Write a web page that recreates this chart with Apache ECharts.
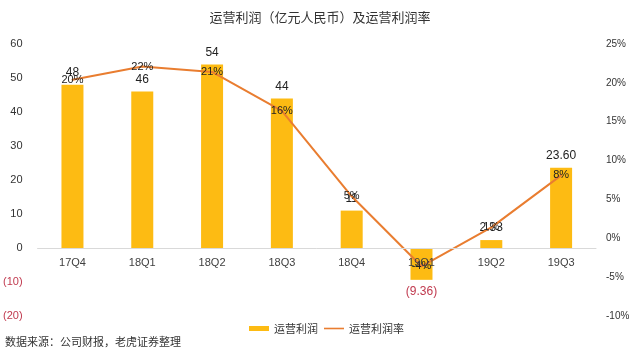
<!DOCTYPE html>
<html>
<head>
<meta charset="utf-8">
<script src="https://cdn.jsdelivr.net/npm/echarts@6/dist/echarts.min.js"></script>
<style>html,body{margin:0;padding:0;background:#fff}#c{width:640px;height:353px}</style>
</head>
<body>
<div id="c"></div>
<script>
const categories = ['17Q4','18Q1','18Q2','18Q3','18Q4','19Q1','19Q2','19Q3'];
const profit = [48, 46, 54, 44, 11, -9.36, 2.33, 23.60];
const profitLabels = ['48','46','54','44','11','(9.36)','2.33','23.60'];
const margin = [20.4, 22.1, 21.4, 16.4, 5.4, -3.6, 1.4, 8.1];
const leftTicks = {min: -20, max: 60, interval: 10};
const rightTicks = {min: -10, max: 25, interval: 5};

const RED = '#C0394E';
const LINE = '#E97D30';
const GRID_TOP = 44, GRID_BOTTOM = 37, H = 353;
const plotH = H - GRID_TOP - GRID_BOTTOM;
const zeroOffset = plotH * (0 - leftTicks.min) / (leftTicks.max - leftTicks.min);

const chart = echarts.init(document.getElementById('c'), null, {renderer: 'canvas'});
const FONT = '"Liberation Sans", Arial, sans-serif';
const CJK = '"Noto Sans CJK SC", sans-serif';

chart.setOption({
  animation: false,
  backgroundColor: '#fff',
  title: {
    text: '运营利润（亿元人民币）及运营利润率',
    left: 'center', top: 6,
    textStyle: {fontFamily: CJK, fontSize: 13, fontWeight: 'normal', color: '#333'}
  },
  legend: {
    left: 244, top: 318,
    itemWidth: 20, itemHeight: 5, itemGap: 6,
    textStyle: {fontFamily: CJK, fontSize: 11, color: '#333'},
    data: [
      {name: '运营利润', icon: 'rect'},
      {name: '运营利润率', icon: 'path://M0 0H25V2H0Z', itemStyle: {color: LINE}}
    ]
  },
  graphic: [{
    type: 'text', left: 5, top: 336,
    style: {text: '数据来源：公司财报，老虎证券整理', font: '11px "Noto Sans CJK SC"', fill: '#333'}
  }],
  grid: {left: 36, right: 44, top: GRID_TOP, bottom: GRID_BOTTOM, containLabel: false},
  xAxis: {
    type: 'category', data: categories,
    offset: -zeroOffset, z: 10,
    axisLine: {onZero: false, lineStyle: {color: '#D9D9D9', width: 1}},
    axisTick: {show: false},
    axisLabel: {fontFamily: FONT, fontSize: 11, color: '#404040', margin: 9}
  },
  yAxis: [{
    type: 'value', min: leftTicks.min, max: leftTicks.max, interval: leftTicks.interval,
    splitLine: {show: false}, axisLine: {show: false}, axisTick: {show: false},
    axisLabel: {
      fontFamily: FONT, fontSize: 11, margin: 15,
      formatter: v => v < 0 ? '(' + (-v) + ')' : String(v),
      color: v => Number(v) < 0 ? RED : '#333'
    }
  }, {
    type: 'value', min: rightTicks.min, max: rightTicks.max, interval: rightTicks.interval,
    splitLine: {show: false}, axisLine: {show: false}, axisTick: {show: false},
    axisLabel: {fontFamily: FONT, fontSize: 10, margin: 10, color: '#333', formatter: v => v + '%'}
  }],
  series: [{
    name: '运营利润', type: 'bar', yAxisIndex: 0, barWidth: 22,
    itemStyle: {color: '#FDBB13'},
    data: profit.map(v => v < 0
      ? {value: v, label: {position: 'bottom', color: RED}}
      : {value: v}),
    label: {
      show: true, position: 'top', distance: 6,
      fontFamily: FONT, fontSize: 12, color: '#222',
      formatter: p => profitLabels[p.dataIndex]
    },
    z: 2
  }, {
    name: '运营利润率', type: 'line', yAxisIndex: 1,
    data: margin,
    symbol: 'circle', symbolSize: 2,
    itemStyle: {color: LINE},
    lineStyle: {color: LINE, width: 2},
    label: {
      show: true, position: 'inside',
      fontFamily: FONT, fontSize: 11, color: '#222',
      formatter: p => Math.round(p.value) + '%'
    },
    z: 3
  }]
});
</script>
</body>
</html>
